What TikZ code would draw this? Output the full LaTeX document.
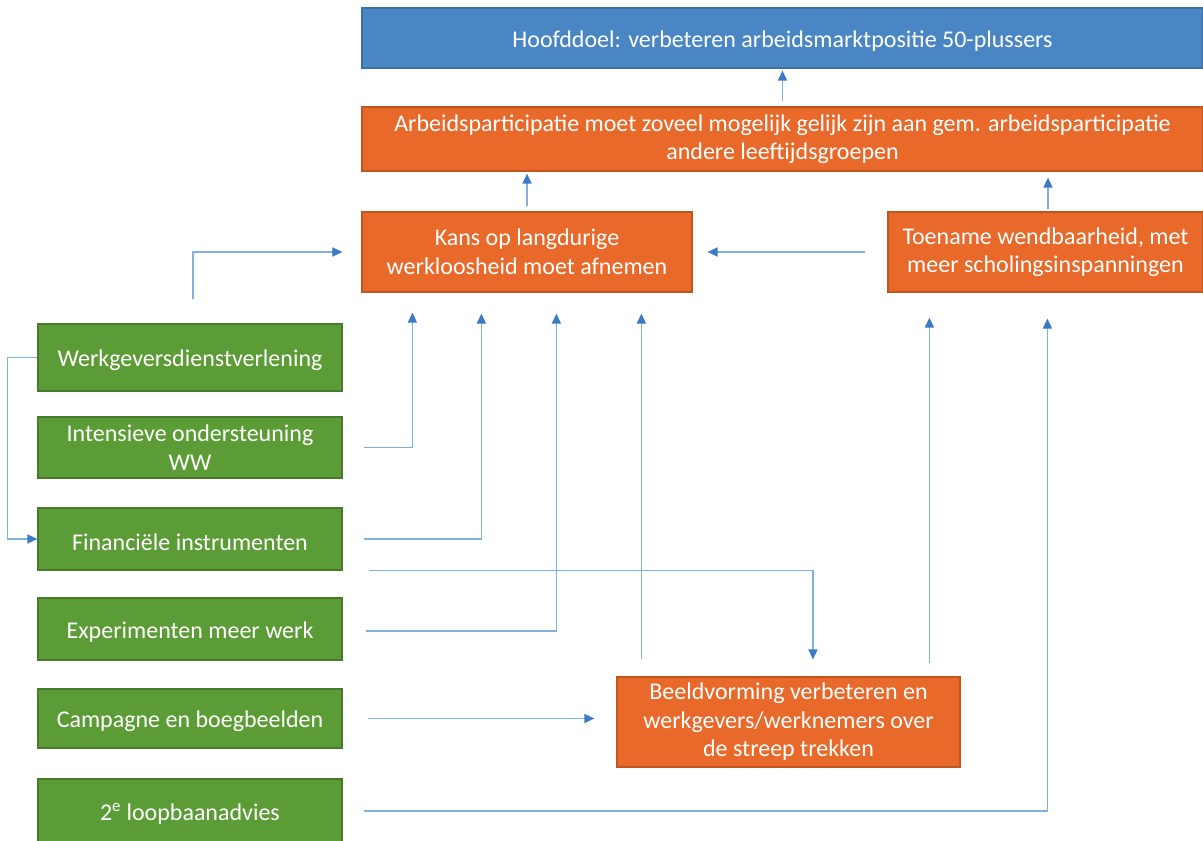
\documentclass[tikz,border=0pt]{standalone}
\usepackage{fontspec}
\setmainfont{Carlito}
\usetikzlibrary{arrows.meta,calc}
\definecolor{bfill}{HTML}{4A86C4}
\definecolor{bdraw}{HTML}{3A6FA8}
\definecolor{ofill}{HTML}{E8692A}
\definecolor{odraw}{HTML}{C0561E}
\definecolor{gfill}{HTML}{5C9C36}
\definecolor{gdraw}{HTML}{477A2A}
\definecolor{lcol}{HTML}{7FB0E0}
\definecolor{acol}{HTML}{3B7AC4}
\tikzset{
  box/.style={rectangle, line width=1.2pt, text=white, align=center, inner sep=2pt,
    font=\fontsize{24}{28.5}\selectfont, execute at begin node={\rule{0pt}{23pt}}},
  bluebox/.style={box, fill=bfill, draw=bdraw},
  orangebox/.style={box, fill=ofill, draw=odraw},
  greenbox/.style={box, fill=gfill, draw=gdraw},
  conn/.style={draw=lcol, line width=1.6pt, -{Triangle[length=10pt,width=9pt,fill=acol,color=acol]}},
}
\begin{document}
\begin{tikzpicture}[x=1pt,y=-1pt]
\useasboundingbox[fill=white] (0,0) rectangle (1203,841);
\node[bluebox, minimum width=841pt, minimum height=60pt] (hoofd) at (782.5,38) {Hoofddoel: verbeteren arbeidsmarktpositie 50-plussers};
\node[orangebox, minimum width=841pt, minimum height=64pt] (arbeid) at (782.5,139) {Arbeidsparticipatie moet zoveel mogelijk gelijk zijn aan gem. arbeidsparticipatie\\andere leeftijdsgroepen};
\node[orangebox, minimum width=330pt, minimum height=80pt] (kans) at (527,252) {Kans op langdurige\\werkloosheid moet afnemen};
\node[orangebox, minimum width=315pt, minimum height=80pt] (toename) at (1045.5,252) {Toename wendbaarheid, met\\meer scholingsinspanningen};
\node[greenbox, minimum width=304pt, minimum height=67pt] (werk) at (190,357.5) {Werkgeversdienstverlening};
\node[greenbox, minimum width=304pt, minimum height=61pt] (inten) at (190,447.5) {Intensieve ondersteuning\\WW};
\node[greenbox, minimum width=304pt, minimum height=62pt] (fin) at (190,539) {Financiële instrumenten};
\node[greenbox, minimum width=304pt, minimum height=62pt] (exp) at (190,629) {Experimenten meer werk};
\node[greenbox, minimum width=304pt, minimum height=59pt] (camp) at (190,718.5) {Campagne en boegbeelden};
\node[greenbox, minimum width=304pt, minimum height=64pt] (loop) at (190,811) {2\textsuperscript{e} loopbaanadvies};
\node[orangebox, minimum width=343pt, minimum height=90pt] (beeld) at (788.5,722) {Beeldvorming verbeteren en\\werkgevers/werknemers over\\de streep trekken};

\draw[conn, shorten <=5pt, shorten >=2pt] (arbeid.north) -- (hoofd.south);
\draw[conn, shorten <=5pt, shorten >=2pt] (kans.north) -- (kans.north |- arbeid.south);
\draw[conn, shorten <=2pt, shorten >=6pt] ([xshift=2.5pt]toename.north) -- ([xshift=2.5pt]toename.north |- arbeid.south);
\draw[conn, shorten <=22pt, shorten >=15pt] (toename.west) -- (kans.east);
\draw[conn, shorten <=24pt, shorten >=19pt] ([xshift=3pt]werk.north) |- (kans.west);
\draw[conn] (werk.west) -- ++(-30,0) |- (fin.west);
\draw[conn, shorten <=21pt, shorten >=20pt] (inten.east) -| ([xshift=51pt]kans.south west);
\draw[conn, shorten <=21pt, shorten >=21pt] (fin.east) -| ([xshift=120pt]kans.south west);
\draw[conn, shorten >=17pt] ([xshift=26pt]fin.south east) -| ([xshift=24.5pt]beeld.north);
\draw[conn, shorten <=23pt, shorten >=21pt] ([yshift=-2pt]exp.east) -| ([xshift=195pt]kans.south west);
\draw[conn, shorten <=17pt, shorten >=21pt] ([xshift=25pt]beeld.north west) -- ([xshift=25pt]beeld.north west |- kans.south);
\draw[conn, shorten <=13pt, shorten >=25pt] ([xshift=313pt]beeld.north west) -- ([xshift=313pt]beeld.north west |- toename.south);
\draw[conn, shorten <=25pt, shorten >=22pt] (camp.east) -- (beeld.west |- camp.east);
\draw[conn, shorten <=21pt, shorten >=26pt] (loop.east) -| ([xshift=160pt]toename.south west);
\end{tikzpicture}
\end{document}
